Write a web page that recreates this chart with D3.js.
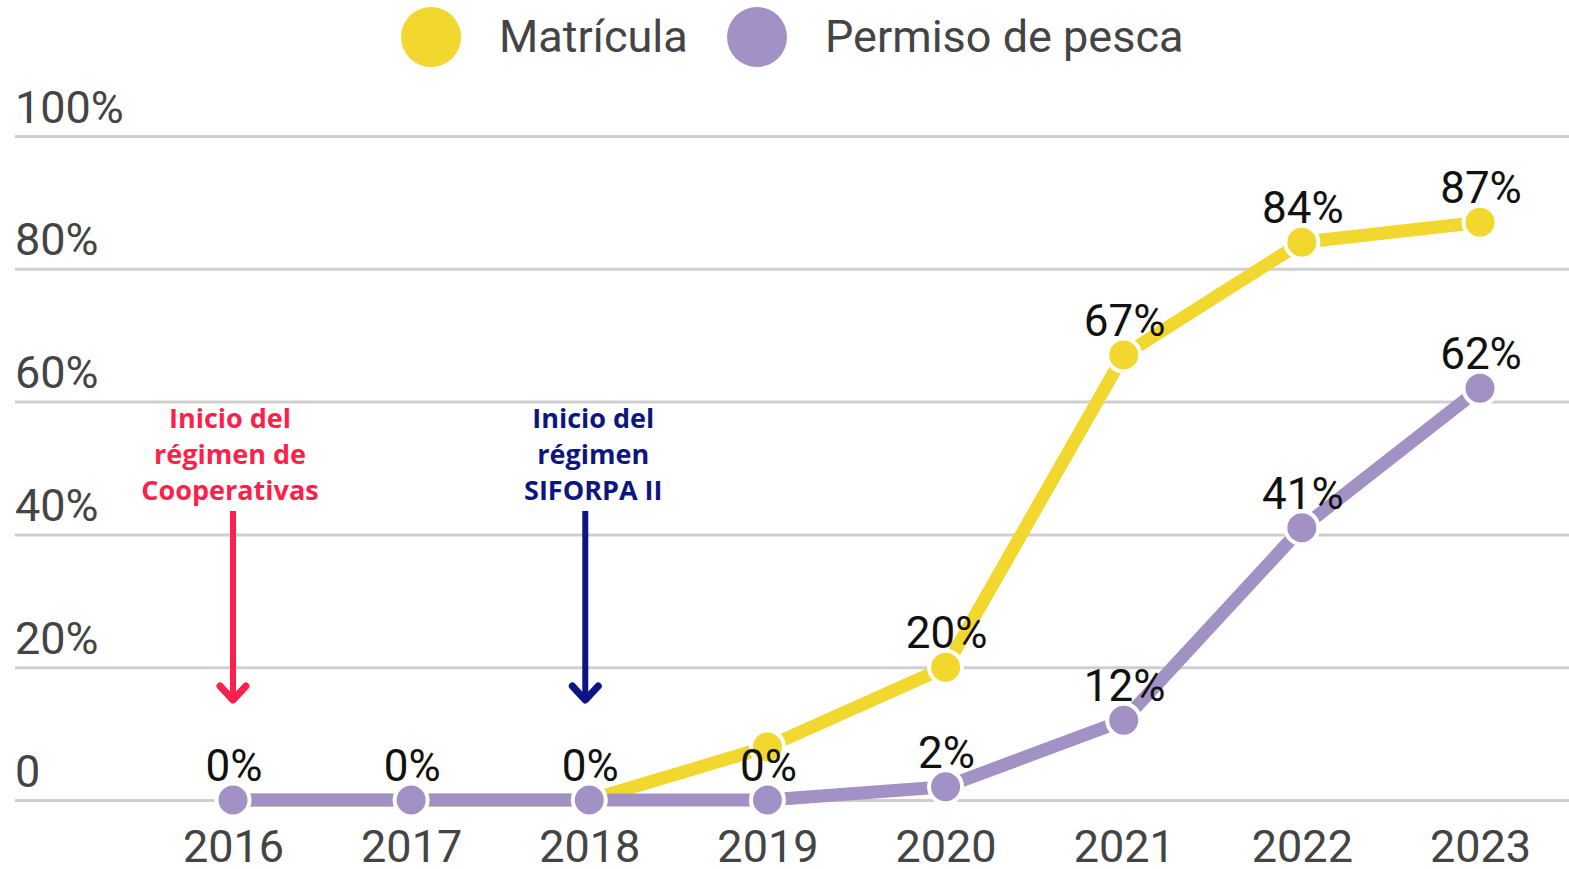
<!DOCTYPE html>
<html>
<head>
<meta charset="utf-8">
<script src="https://cdn.jsdelivr.net/npm/d3@7"></script>
<style>
  body { margin: 0; background: #fff; }
  svg { display: block; }
  .axis text { font-family: Roboto, sans-serif; fill: #444; }
  .label { font-family: Roboto, sans-serif; fill: #111; }
  .note { font-family: "Open Sans", sans-serif; font-weight: 700; }
</style>
</head>
<body>
<div id="chart"></div>
<script>
// data
const years = ["2016", "2017", "2018", "2019", "2020", "2021", "2022", "2023"];
const matricula = [0, 0, 0, 8, 20, 67, 84, 87];
const permiso = [0, 0, 0, 0, 2, 12, 41, 62];
// labels shown on the points (null = no label)
const matriculaLabels = [null, null, null, null, "20%", "67%", "84%", "87%"];
const permisoLabels = ["0%", "0%", "0%", "0%", "2%", "12%", "41%", "62%"];
const yTicks = [0, 20, 40, 60, 80, 100];
const legendNames = ["Matrícula", "Permiso de pesca"];
const notes = [
  { year: "2016", lines: ["Inicio del", "régimen de", "Cooperativas"], color: "#ff1f4b", dx: -3, ax: 0 },
  { year: "2018", lines: ["Inicio del", "régimen", "SIFORPA II"], color: "#0c1580", dx: 4, ax: -4 }
];

const W = 1569, H = 869;
const yellow = "#f2d72e", purple = "#a291c5";

const svg = d3.select("#chart").append("svg")
  .attr("width", W).attr("height", H);

const x = d3.scalePoint().domain(years).range([233, 1480]);
const y = d3.scaleLinear().domain([0, 100]).range([800, 136]);

// gridlines + y labels
const yAxis = svg.append("g")
  .attr("class", "axis")
  .attr("transform", "translate(15,0)")
  .call(d3.axisRight(y).tickValues(yTicks).tickSize(W - 15)
    .tickFormat(d => d === 0 ? "0" : d + "%"));
yAxis.select(".domain").remove();
yAxis.selectAll("line").attr("stroke", "#cfcfcf").attr("stroke-width", 3);
yAxis.selectAll("text")
  .attr("x", 0).attr("dy", 0).attr("y", -14)
  .attr("text-anchor", "start")
  .style("font-size", "45px");

// x labels
const xAxis = svg.append("g")
  .attr("class", "axis")
  .attr("transform", "translate(0,800)")
  .call(d3.axisBottom(x).tickSize(0));
xAxis.select(".domain").remove();
xAxis.selectAll("text")
  .attr("y", 62).attr("dy", 0)
  .style("font-size", "45px");

const line = d3.line().x((d, i) => x(years[i])).y(d => y(d));

function series(values, color) {
  svg.append("path")
    .datum(values)
    .attr("fill", "none")
    .attr("stroke", color)
    .attr("stroke-width", 13)
    .attr("stroke-linejoin", "round")
    .attr("d", line);
  svg.append("g").selectAll("circle")
    .data(values)
    .enter().append("circle")
    .attr("cx", (d, i) => x(years[i]))
    .attr("cy", d => y(d))
    .attr("r", 16.5)
    .attr("fill", color)
    .attr("stroke", "#fff")
    .attr("stroke-width", 4);
}

series(matricula, yellow);
series(permiso, purple);

function labels(values, texts) {
  svg.append("g").selectAll("text")
    .data(values)
    .enter().append("text")
    .attr("class", "label")
    .attr("x", (d, i) => x(years[i]) + 1)
    .attr("y", d => y(d) - 19)
    .attr("text-anchor", "middle")
    .style("font-size", "44px")
    .text((d, i) => texts[i] || "");
}
labels(matricula, matriculaLabels);
labels(permiso, permisoLabels);

// annotations with arrows
notes.forEach(n => {
  const cx = x(n.year) + n.dx;
  const g = svg.append("g");
  g.selectAll("text")
    .data(n.lines)
    .enter().append("text")
    .attr("class", "note")
    .attr("x", cx)
    .attr("y", (d, i) => 428 + i * 36)
    .attr("text-anchor", "middle")
    .attr("fill", n.color)
    .style("font-size", "27px")
    .text(d => d);
  const ax = x(n.year) + n.ax;
  g.append("line")
    .attr("x1", ax).attr("x2", ax)
    .attr("y1", 511).attr("y2", 700)
    .attr("stroke", n.color).attr("stroke-width", 6);
  g.append("path")
    .attr("d", `M${ax - 13},${686}L${ax},${700}L${ax + 13},${686}`)
    .attr("fill", "none")
    .attr("stroke", n.color)
    .attr("stroke-width", 7)
    .attr("stroke-linecap", "round")
    .attr("stroke-linejoin", "round");
});

// legend
const legend = svg.append("g").attr("class", "axis");
const legendX = [431, 757];
legendNames.forEach((name, i) => {
  legend.append("circle")
    .attr("cx", legendX[i]).attr("cy", 37).attr("r", 30)
    .attr("fill", i === 0 ? yellow : purple);
  legend.append("text")
    .attr("x", legendX[i] + 68).attr("y", 52)
    .style("font-size", "45px")
    .text(name);
});
</script>
</body>
</html>
